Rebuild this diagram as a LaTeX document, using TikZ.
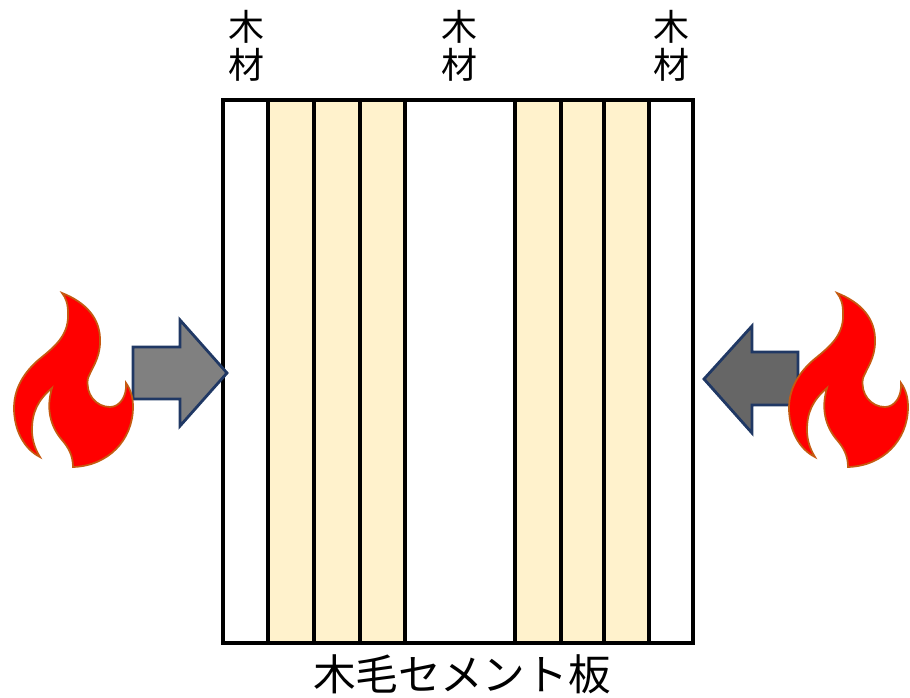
\documentclass[tikz,border=0pt]{standalone}
\usepackage{fontspec}
\newfontfamily\cjk{Noto Sans CJK JP}[Scale=1]
\definecolor{arrowblue}{HTML}{203864}
\definecolor{flameedge}{HTML}{C55A11}
\definecolor{bandfill}{HTML}{FFF2CC}
\tikzset{
  band/.style={draw=black,line width=2.5pt},
  blockarrow/.style={draw=arrowblue,line width=2.1pt,fill=#1,line join=miter},
  flame/.style={draw=flameedge,line width=1.3pt,fill=red,line join=miter},
  woodlabel/.style={font=\cjk\fontsize{27}{27}\selectfont,inner sep=0pt,text=black},
  boardlabel/.style={font=\cjk\fontsize{32}{32}\selectfont,inner sep=0pt,text=black}
}
\newcommand{\flameshape}[1]{%
  \draw[flame,shift={(#1,0)}] (62,293)
    .. controls (85,302) and (101,318) .. (100,342)
    .. controls (100,358) and (92,368) .. (88,378)
    .. controls (85,394) and (96,407) .. (110,407)
    .. controls (120,407) and (127,396) .. (126,383)
    .. controls (131,390) and (133,398) .. (133,407)
    .. controls (133,440) and (108,466) .. (73,467)
    .. controls (73,455) and (68,447) .. (62,440)
    .. controls (50,426) and (46,408) .. (52,388)
    .. controls (38,400) and (32,412) .. (32,430)
    .. controls (32,440) and (35,449) .. (40,457)
    .. controls (24,449) and (14,430) .. (14,408)
    .. controls (14,385) and (28,368) .. (42,357)
    .. controls (58,344) and (69,333) .. (68,313)
    .. controls (68,304) and (66,298) .. (62,293) -- cycle;}
\begin{document}
\begin{tikzpicture}[x=0.75pt,y=-0.75pt]
\useasboundingbox (0,0) rectangle (910,698);
% bands
\fill[bandfill] (268,100) rectangle (405,643);
\fill[bandfill] (515,100) rectangle (649,643);
\foreach \xa/\xb in {223/268,268/314,314/360,360/405,405/515,515/561,561/604,604/649,649/693}{
  \draw[band] (\xa,100) rectangle (\xb,643);
}
% arrows
\draw[blockarrow=black!50] (133,347) -- (180,347) -- (180,320) -- (227,373) -- (180,426) -- (180,399) -- (133,399) -- cycle;
\draw[blockarrow=black!60] (798,352) -- (752,352) -- (752,326) -- (704,379) -- (752,433) -- (752,405) -- (798,405) -- cycle;
% flames
\flameshape{0}
\flameshape{775}
% labels
\node[woodlabel] (wa1) at (246,27) {木};
\node[woodlabel] (wa2) at (246,65) {材};
\node[woodlabel] (wb1) at (459,27) {木};
\node[woodlabel] (wb2) at (459,65) {材};
\node[woodlabel] (wc1) at (671,27) {木};
\node[woodlabel] (wc2) at (671,65) {材};
\node[boardlabel] (board) at (462,674) {木毛セメント板};
\end{tikzpicture}
\end{document}
